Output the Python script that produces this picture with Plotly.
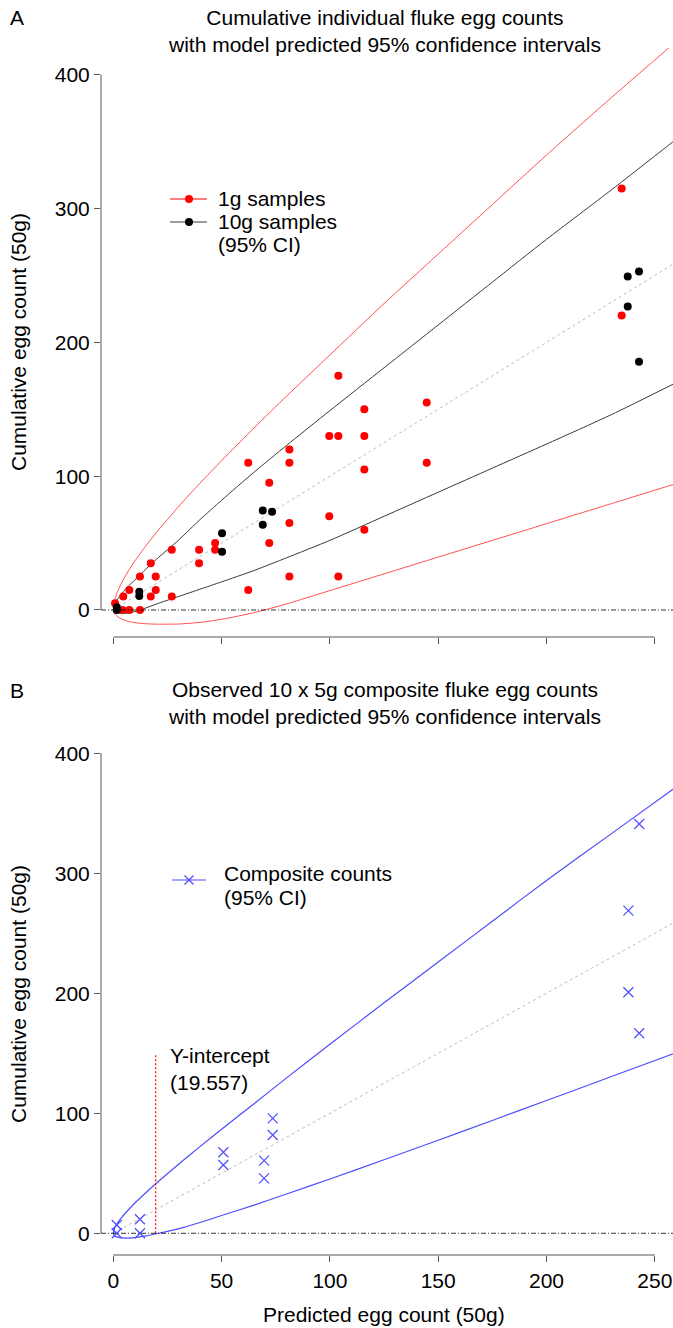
import plotly.graph_objects as go

# ---------------- data ----------------
# Panel A: cumulative individual counts (50g) vs predicted egg count (50g)
red_x = [0.8, 4.3, 4.6, 7.4, 7.4, 12.3, 12.3, 17.3, 17.3, 19.6, 19.6, 27.0, 27.0, 39.6, 39.6,
         47.0, 47.0, 62.3, 62.3, 72.0, 72.0, 81.3, 81.3, 81.3, 81.3, 99.7, 99.7, 103.9, 103.9,
         103.9, 115.9, 115.9, 115.9, 115.9, 144.7, 144.7, 234.7, 234.7]
red_y = [5, 0, 10, 15, 0, 0, 25, 35, 10, 25, 15, 45, 10, 45, 35,
         50, 45, 110, 15, 95, 50, 120, 110, 65, 25, 130, 70, 175, 130,
         25, 150, 130, 105, 60, 155, 110, 315, 220]
black_x = [1.6, 1.6, 12.0, 12.0, 50.2, 50.2, 69.0, 69.0, 73.3, 237.5, 237.5, 242.7, 242.7]
black_y = [0, 2, 10.5, 13.7, 57.3, 43.6, 74.3, 63.6, 73.5, 249.2, 226.8, 253, 185.6]

# model curves
curve_x = [0, 0.5, 1, 2, 4, 7, 10, 15, 20, 30, 40, 50, 65, 80, 100, 125, 150, 175, 200, 230, 260]
red_upper = [0, 6.4, 9.4, 13.9, 20.8, 29.3, 36.7, 47.8, 58.1, 77, 94.7, 111.6, 136.1, 159.8,
             190.6, 229, 266, 303, 340, 383, 425]
red_lower = [0, -2.5, -3.5, -5, -6.8, -8.5, -9.5, -10.3, -10.6, -10.5, -9.3, -7, -2, 4.5,
             14.5, 27, 39.5, 52, 64.5, 79.5, 94.5]
black_upper = [0, 3.6, 5.3, 8.1, 12.5, 18, 22.5, 30.5, 38, 52, 67.5, 82, 103, 123,
               149, 181, 213, 245, 277, 314, 352]
black_lower = [0, -1.2, -1.8, -2.3, -2.6, -2.3, -1.2, 1.5, 4.5, 10, 15.5, 21, 29.5, 39,
               52, 70, 88, 106, 124, 146, 170]
mean_x = [0, 260]
mean_y = [0, 260]

# Panel B: 10 x 5g composite counts
blue_x = [1.6, 1.6, 12.3, 12.3, 50.8, 50.8, 69.6, 69.6, 73.6, 73.6, 237.8, 237.8, 242.8, 242.8]
blue_y = [6.9, 0, 11.7, 0, 67.5, 56.9, 60.5, 45.8, 95.8, 81.9, 268.8, 200.8, 341, 166.7]
blue_upper = [0, 3.8, 5.7, 8.7, 13.5, 19.6, 25.2, 33.8, 41.9, 57.3, 72.2, 86.7, 108, 129.5,
              157.5, 192, 226, 260, 294, 333, 372]
blue_lower = [0, -2.2, -2.8, -3.2, -3.8, -4, -3.6, -2.2, -0.3, 3.7, 9, 14.8, 23.5, 32.7,
              45.2, 61.3, 77.5, 94, 110.6, 130.6, 150.6]
y_intercept = 19.557
intercept_line_y = [0, 150]

x_ticks = [0, 50, 100, 150, 200, 250]
y_ticks = [0, 100, 200, 300, 400]

legend_a_lines = ["1g samples", "10g samples", "(95% CI)"]
legend_b_lines = ["Composite counts", "(95% CI)"]

# ---------------- styling ----------------
FONT = "Liberation Sans, Arial, Helvetica, sans-serif"
FS = 21
W, H = 673, 1328
RED_PT = "#ff0000"
RED_LN = "#ff5050"
BLK_LN = "#3a3a3a"
BLUE = "#4d4dff"
GREY = "#bdbdbd"


def px_x(p):
    return p / W


def px_y(p):
    return 1 - p / H


fig = go.Figure()
spline = dict(shape="spline", smoothing=0.6)

# ---- panel A ----
fig.add_trace(go.Scatter(x=mean_x, y=mean_y, mode="lines", xaxis="x", yaxis="y",
                         line=dict(color=GREY, width=1, dash="dot"), hoverinfo="skip"))
for ys, col in [(red_upper, RED_LN), (red_lower, RED_LN), (black_upper, BLK_LN), (black_lower, BLK_LN)]:
    fig.add_trace(go.Scatter(x=curve_x, y=ys, mode="lines", xaxis="x", yaxis="y",
                             line=dict(color=col, width=1, **spline)))
fig.add_trace(go.Scatter(x=red_x, y=red_y, mode="markers", xaxis="x", yaxis="y",
                         marker=dict(color=RED_PT, size=8)))
fig.add_trace(go.Scatter(x=black_x, y=black_y, mode="markers", xaxis="x", yaxis="y",
                         marker=dict(color="black", size=8)))

# ---- panel B ----
fig.add_trace(go.Scatter(x=mean_x, y=mean_y, mode="lines", xaxis="x2", yaxis="y2",
                         line=dict(color=GREY, width=1, dash="dot"), hoverinfo="skip"))
for ys in [blue_upper, blue_lower]:
    fig.add_trace(go.Scatter(x=curve_x, y=ys, mode="lines", xaxis="x2", yaxis="y2",
                             line=dict(color=BLUE, width=1.2, **spline)))
fig.add_trace(go.Scatter(x=[y_intercept, y_intercept], y=intercept_line_y, mode="lines",
                         xaxis="x2", yaxis="y2", line=dict(color="#ff0000", width=1.2, dash="2px,2px")))
fig.add_trace(go.Scatter(x=blue_x, y=blue_y, mode="markers", xaxis="x2", yaxis="y2",
                         marker=dict(symbol="x-thin", size=10, color=BLUE,
                                     line=dict(color=BLUE, width=1.2))))

# ---------------- layout ----------------
x_dom = [px_x(101), 1.0]
x_rng = [-5.68, 258.4]
axis_common = dict(showgrid=False, zeroline=False, showline=False, ticks="outside", ticklen=6,
                   tickwidth=1, tickcolor="#555555", tickfont=dict(family=FONT, size=FS, color="black"))

fig.update_layout(
    width=W, height=H, margin=dict(l=0, r=0, t=0, b=0),
    paper_bgcolor="white", plot_bgcolor="white",
    font=dict(family=FONT, size=FS, color="black"),
    showlegend=False,
    xaxis=dict(domain=x_dom, range=x_rng, tickvals=x_ticks, showticklabels=False, anchor="y",
               **axis_common),
    yaxis=dict(domain=[px_y(637), px_y(48)], range=[-20.2, 420], tickvals=y_ticks, anchor="x",
               **axis_common),
    xaxis2=dict(domain=x_dom, range=x_rng, tickvals=x_ticks, anchor="y2", ticklabelstandoff=1,
                **axis_common),
    yaxis2=dict(domain=[px_y(1255), px_y(734)], range=[-18.1, 416], tickvals=y_ticks, anchor="x2",
                **axis_common),
)

shapes = []
for xa, ya in [("x", "y"), ("x2", "y2")]:
    shapes.append(dict(type="line", xref=f"{xa} domain", yref=ya, x0=0, x1=0,
                       y0=min(y_ticks), y1=max(y_ticks), line=dict(color="#555555", width=1)))
    shapes.append(dict(type="line", xref=xa, yref=f"{ya} domain", x0=min(x_ticks), x1=max(x_ticks),
                       y0=0, y1=0, line=dict(color="#555555", width=1)))
    shapes.append(dict(type="line", xref=f"{xa} domain", yref=ya, x0=0, x1=1, y0=0, y1=0,
                       line=dict(color="black", width=0.8, dash="5px,2px,1px,2px")))

# manual legends (symbol: short line with a marker on it)
def legend_symbol(yc, x0, x1, xm, color, kind):
    out = [dict(type="line", xref="paper", yref="paper", x0=px_x(x0), x1=px_x(x1),
                y0=px_y(yc), y1=px_y(yc), line=dict(color=color, width=1.2))]
    if kind == "dot":
        out.append(dict(type="circle", xref="paper", yref="paper", xsizemode="pixel", ysizemode="pixel",
                        xanchor=px_x(xm), yanchor=px_y(yc), x0=-4, x1=4, y0=-4, y1=4,
                        fillcolor=color if color != BLK_LN else "black",
                        line=dict(width=0)))
    else:
        for s in (1, -1):
            out.append(dict(type="line", xref="paper", yref="paper", xsizemode="pixel", ysizemode="pixel",
                            xanchor=px_x(xm), yanchor=px_y(yc), x0=-4.5, x1=4.5, y0=-4.5 * s, y1=4.5 * s,
                            line=dict(color=color, width=1.2)))
    return out

shapes += legend_symbol(199, 170, 207, 189, RED_PT, "dot")
shapes += legend_symbol(222, 170, 207, 189, BLK_LN, "dot")
shapes += legend_symbol(880, 172, 206, 189, BLUE, "x")
fig.update_layout(shapes=shapes)

ann = []
def txt(text, x, y, **kw):
    d = dict(text=text, x=x, y=y, xref="paper", yref="paper", showarrow=False,
             xanchor="center", yanchor="middle", font=dict(size=FS, family=FONT, color="black"))
    d.update(kw)
    ann.append(d)

txt("A", px_x(17), px_y(18))
txt("Cumulative individual fluke egg counts<br>with model predicted 95% confidence intervals",
    px_x(384), px_y(31))
txt("B", px_x(17), px_y(690))
txt("Observed 10 x 5g composite fluke egg counts<br>with model predicted 95% confidence intervals",
    px_x(384), px_y(703))
for yc in [342, 994]:
    txt("Cumulative egg count (50g)", px_x(18), px_y(yc), textangle=-90)
txt("Predicted egg count (50g)", px_x(384), px_y(1314))
for i, line in enumerate(legend_a_lines):
    txt(line, px_x(216), px_y(199 + 23 * i), xanchor="left")
for i, line in enumerate(legend_b_lines):
    txt(line, px_x(222), px_y(873 + 24 * i), xanchor="left")
ann.append(dict(text="Y-intercept<br>(" + f"{y_intercept:.3f}" + ")", x=25.4, y=137, xref="x2", yref="y2",
                xanchor="left", yanchor="middle", align="left", showarrow=False,
                font=dict(size=FS, family=FONT, color="black")))
fig.update_layout(annotations=ann)

fig.write_html("out.html", config={"displayModeBar": False},
               post_script="document.body.style.margin='0px';")
